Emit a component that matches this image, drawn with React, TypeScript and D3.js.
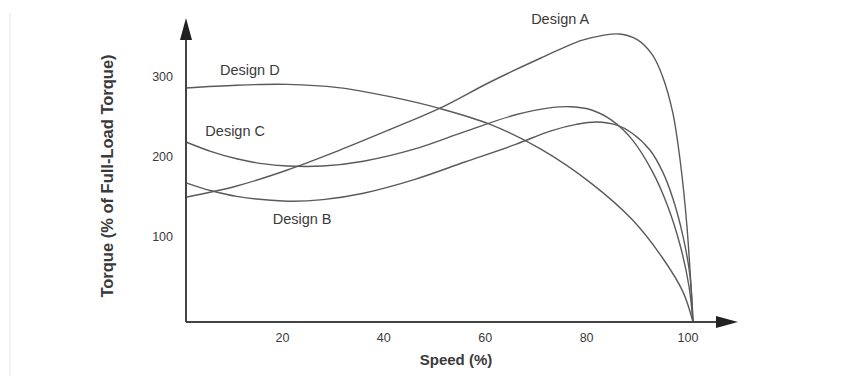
import React from "react";
import * as d3 from "d3";

const speedA = [0, 10, 20, 30, 40, 50, 60, 70, 78, 82, 85.5, 89, 92, 94, 96, 97.5, 98.8, 100];
const torqueA = [156, 170, 190, 214, 240, 267, 300, 330, 352, 358, 360, 353, 334, 307, 262, 200, 120, 0];

const speedB = [0, 5, 10, 20, 27, 35, 45, 55, 65, 72, 77, 81, 85, 88, 91.5, 94, 96, 98, 99.4, 100];
const torqueB = [174, 164, 157, 151, 153, 161, 178, 200, 222, 239, 247, 250, 246, 236, 215, 188, 155, 108, 58, 0];

const speedC = [0, 5, 10, 15, 20, 27, 35, 45, 55, 65, 72, 76, 80, 84, 88, 92, 95, 97.5, 99.2, 100];
const torqueC = [225, 213, 204, 198, 195, 195, 201, 216, 238, 259, 268, 269, 265, 252, 228, 188, 145, 95, 45, 0];

const speedD = [0, 10, 20, 30, 40, 50, 60, 70, 80, 88, 94, 98, 100];
const torqueD = [292.5, 296, 297, 293, 282, 267, 247, 216, 173, 128, 80, 38, 0];

const xTicks = [20, 40, 60, 80, 100];
const yTicks = [100, 200, 300];

const seriesNames = ["Design A", "Design B", "Design C", "Design D"];
const labelSpeed = [73.8, 22.9, 9.7, 12.6];
const labelTorque = [379, 129, 239, 315];

const W = 866;
const H = 376;

export default function App() {
  const x = d3.scaleLinear().domain([0, 100]).range([186, 693]);
  const y = d3.scaleLinear().domain([0, 300]).range([322, 82]);

  const series = [
    speedA.map((s, i) => [s, torqueA[i]] as [number, number]),
    speedB.map((s, i) => [s, torqueB[i]] as [number, number]),
    speedC.map((s, i) => [s, torqueC[i]] as [number, number]),
    speedD.map((s, i) => [s, torqueD[i]] as [number, number]),
  ];

  const line = d3
    .line<[number, number]>()
    .x((d) => x(d[0]))
    .y((d) => y(d[1]))
    .curve(d3.curveCatmullRom.alpha(0.5));

  const x0 = x(0);
  const y0 = y(0);
  const font = "Liberation Sans, Arial, sans-serif";
  const textColor = "#3a3a3a";

  return (
    <svg
      width={W}
      height={H}
      viewBox={`0 0 ${W} ${H}`}
      style={{ position: "absolute", left: 0, top: 0, background: "#fff" }}
    >
      <rect x={0} y={0} width={W} height={H} fill="#fff" />
      <line x1={10} y1={13} x2={10} y2={H} stroke="#e6e6e6" strokeWidth={1} />

      {series.map((s, i) => (
        <path key={i} d={line(s) || ""} fill="none" stroke="#5a5a5a" strokeWidth={1.4} />
      ))}

      <line x1={x0} y1={y0} x2={724} y2={y0} stroke="#444" strokeWidth={2} />
      <line x1={x0} y1={y0} x2={x0} y2={38} stroke="#444" strokeWidth={2} />
      <path d={`M${x0},18 L${x0 - 6},40 L${x0 + 6},40 Z`} fill="#222" />
      <path d={`M738,${y0} L716,${y0 - 6} L716,${y0 + 6} Z`} fill="#222" />

      {xTicks.map((t) => (
        <text
          key={t}
          x={x(t) - 5}
          y={338}
          dy="0.35em"
          textAnchor="middle"
          fontFamily={font}
          fontSize={12.5}
          fill={textColor}
        >
          {t}
        </text>
      ))}

      {yTicks.map((t) => (
        <text
          key={t}
          x={173}
          y={y(t) - 5}
          dy="0.35em"
          textAnchor="end"
          fontFamily={font}
          fontSize={12.5}
          fill={textColor}
        >
          {t}
        </text>
      ))}

      {seriesNames.map((n, i) => (
        <text
          key={n}
          x={x(labelSpeed[i])}
          y={y(labelTorque[i])}
          dy="0.35em"
          textAnchor="middle"
          fontFamily={font}
          fontSize={14.5}
          fill={textColor}
        >
          {n}
        </text>
      ))}

      <text
        x={456}
        y={360}
        dy="0.35em"
        textAnchor="middle"
        fontFamily={font}
        fontSize={15}
        fontWeight="bold"
        fill={textColor}
      >
        Speed (%)
      </text>
      <text
        transform="translate(107,176) rotate(-90)"
        dy="0.35em"
        textAnchor="middle"
        fontFamily={font}
        fontSize={16.5}
        fontWeight="bold"
        fill={textColor}
      >
        Torque (% of Full-Load Torque)
      </text>
    </svg>
  );
}
